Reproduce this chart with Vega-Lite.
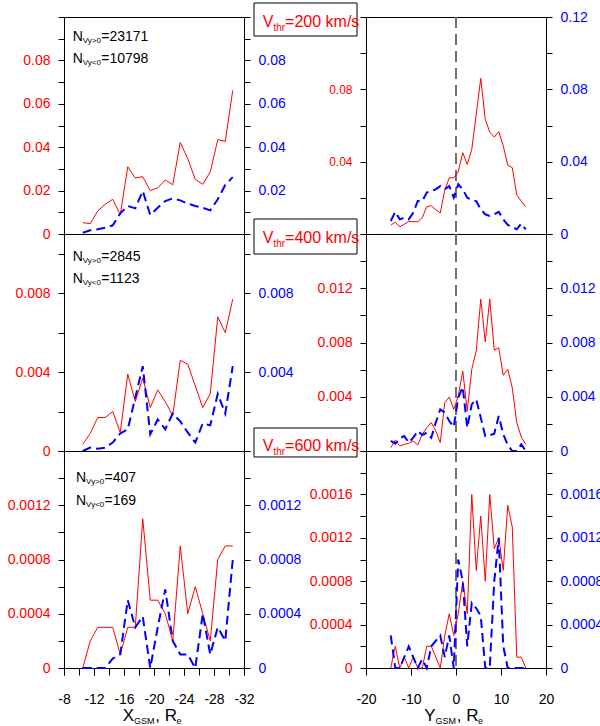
{
"$schema": "https://vega.github.io/schema/vega-lite/v6.json",
"padding": {"left": 6, "top": 2, "right": 0, "bottom": 0},
"datasets": {"d": [
{"p":"TL","x":-10.5,"r":0.0052,"b":0.0006},{"p":"TL","x":-11.5,"r":0.0048,"b":0.0017},{"p":"TL","x":-12.5,"r":0.0106,"b":0.0022},{"p":"TL","x":-13.5,"r":0.0137,"b":0.0029},{"p":"TL","x":-14.5,"r":0.016,"b":0.004},{"p":"TL","x":-15.5,"r":0.0088,"b":0.0095},{"p":"TL","x":-16.5,"r":0.031,"b":0.0129},{"p":"TL","x":-17.5,"r":0.0258,"b":0.0118},{"p":"TL","x":-18.5,"r":0.0264,"b":0.0198},{"p":"TL","x":-19.5,"r":0.02,"b":0.0088},{"p":"TL","x":-20.5,"r":0.0213,"b":0.0121},{"p":"TL","x":-21.5,"r":0.0249,"b":0.0152},{"p":"TL","x":-22.5,"r":0.0227,"b":0.0164},{"p":"TL","x":-23.5,"r":0.0422,"b":0.0155},{"p":"TL","x":-24.5,"r":0.0347,"b":0.014},{"p":"TL","x":-25.5,"r":0.0252,"b":0.0129},{"p":"TL","x":-26.5,"r":0.0229,"b":0.0121},{"p":"TL","x":-27.5,"r":0.0286,"b":0.0109},{"p":"TL","x":-28.5,"r":0.0435,"b":0.016},{"p":"TL","x":-29.5,"r":0.0427,"b":0.0226},{"p":"TL","x":-30.5,"r":0.0662,"b":0.0262},
{"p":"TR","x":-14.5,"r":0.0048,"b":0.0072},{"p":"TR","x":-13.5,"r":0.0066,"b":0.0123},{"p":"TR","x":-12.5,"r":0.0039,"b":0.0081},{"p":"TR","x":-11.5,"r":0.0054,"b":0.009},{"p":"TR","x":-10.5,"r":0.007,"b":0.0081},{"p":"TR","x":-9.5,"r":0.0068,"b":0.0118},{"p":"TR","x":-8.5,"r":0.0068,"b":0.0182},{"p":"TR","x":-7.5,"r":0.009,"b":0.0182},{"p":"TR","x":-6.5,"r":0.0151,"b":0.0229},{"p":"TR","x":-5.5,"r":0.0157,"b":0.0238},{"p":"TR","x":-4.5,"r":0.0134,"b":0.0247},{"p":"TR","x":-3.5,"r":0.0116,"b":0.0265},{"p":"TR","x":-2.5,"r":0.0242,"b":0.0247},{"p":"TR","x":-1.5,"r":0.0311,"b":0.0265},{"p":"TR","x":-0.5,"r":0.0311,"b":0.0201},{"p":"TR","x":0.5,"r":0.0345,"b":0.0275},{"p":"TR","x":1.5,"r":0.045,"b":0.0247},{"p":"TR","x":2.5,"r":0.0385,"b":0.0201},{"p":"TR","x":3.5,"r":0.0468,"b":0.0188},{"p":"TR","x":4.5,"r":0.0662,"b":0.0182},{"p":"TR","x":5.5,"r":0.0861,"b":0.0136},{"p":"TR","x":6.5,"r":0.0634,"b":0.0109},{"p":"TR","x":7.5,"r":0.0564,"b":0.01},{"p":"TR","x":8.5,"r":0.0536,"b":0.0109},{"p":"TR","x":9.5,"r":0.0566,"b":0.0123},{"p":"TR","x":10.5,"r":0.0487,"b":0.0081},{"p":"TR","x":11.5,"r":0.038,"b":0.005},{"p":"TR","x":12.5,"r":0.0367,"b":0.0039},{"p":"TR","x":13.5,"r":0.0216,"b":0.0026},{"p":"TR","x":14.5,"r":0.0182,"b":0.0057},{"p":"TR","x":15.5,"r":0.0151,"b":0.0026},
{"p":"ML","x":-10.5,"r":0.00034,"b":0},{"p":"ML","x":-11.5,"r":0.00089,"b":0.00017},{"p":"ML","x":-12.5,"r":0.0017,"b":0.00012},{"p":"ML","x":-13.5,"r":0.0017,"b":0.00017},{"p":"ML","x":-14.5,"r":0.002,"b":0.00043},{"p":"ML","x":-15.5,"r":0.00094,"b":0.00089},{"p":"ML","x":-16.5,"r":0.0039,"b":0.0011},{"p":"ML","x":-17.5,"r":0.0025,"b":0.0027},{"p":"ML","x":-18.5,"r":0.0037,"b":0.0043},{"p":"ML","x":-19.5,"r":0.0022,"b":0.00085},{"p":"ML","x":-20.5,"r":0.0031,"b":0.0016},{"p":"ML","x":-21.5,"r":0.0025,"b":0.0011},{"p":"ML","x":-22.5,"r":0.0018,"b":0.0019},{"p":"ML","x":-23.5,"r":0.0046,"b":0.0015},{"p":"ML","x":-24.5,"r":0.0044,"b":0.00094},{"p":"ML","x":-25.5,"r":0.0033,"b":0.00043},{"p":"ML","x":-26.5,"r":0.0022,"b":0.0014},{"p":"ML","x":-27.5,"r":0.0029,"b":0.0013},{"p":"ML","x":-28.5,"r":0.0068,"b":0.0029},{"p":"ML","x":-29.5,"r":0.006,"b":0.0019},{"p":"ML","x":-30.5,"r":0.0077,"b":0.0043},
{"p":"MR","x":-14.5,"r":0.00025,"b":0.00074},{"p":"MR","x":-13.5,"r":0.00079,"b":0.00054},{"p":"MR","x":-12.5,"r":0.00037,"b":0.00094},{"p":"MR","x":-11.5,"r":0.00049,"b":0.0011},{"p":"MR","x":-10.5,"r":0.00057,"b":0.00062},{"p":"MR","x":-9.5,"r":0.00074,"b":0.00098},{"p":"MR","x":-8.5,"r":0.00044,"b":0.00148},{"p":"MR","x":-7.5,"r":0.00123,"b":0.00118},{"p":"MR","x":-6.5,"r":0.00172,"b":0.00135},{"p":"MR","x":-5.5,"r":0.00209,"b":0.00098},{"p":"MR","x":-4.5,"r":0.00148,"b":0.00209},{"p":"MR","x":-3.5,"r":0.00062,"b":0.00307},{"p":"MR","x":-2.5,"r":0.00357,"b":0.00283},{"p":"MR","x":-1.5,"r":0.00398,"b":0.00221},{"p":"MR","x":-0.5,"r":0.00307,"b":0.00177},{"p":"MR","x":0.5,"r":0.00406,"b":0.00393},{"p":"MR","x":1.5,"r":0.0059,"b":0.00472},{"p":"MR","x":2.5,"r":0.00295,"b":0.00172},{"p":"MR","x":3.5,"r":0.00602,"b":0.00344},{"p":"MR","x":4.5,"r":0.00738,"b":0.00381},{"p":"MR","x":5.5,"r":0.0112,"b":0.00246},{"p":"MR","x":6.5,"r":0.00804,"b":0.0011},{"p":"MR","x":7.5,"r":0.0112,"b":0.00116},{"p":"MR","x":8.5,"r":0.00743,"b":0.00128},{"p":"MR","x":9.5,"r":0.00762,"b":0.00258},{"p":"MR","x":10.5,"r":0.00558,"b":0.00123},{"p":"MR","x":11.5,"r":0.00602,"b":0.00044},{"p":"MR","x":12.5,"r":0.00467,"b":0},{"p":"MR","x":13.5,"r":0.00209,"b":0},{"p":"MR","x":14.5,"r":0.00103,"b":0.00049},{"p":"MR","x":15.5,"r":0.00049,"b":0},
{"p":"BL","x":-10.5,"r":0,"b":0},{"p":"BL","x":-11.5,"r":0.0002,"b":0},{"p":"BL","x":-12.5,"r":0.0003,"b":0},{"p":"BL","x":-13.5,"r":0.0003,"b":0},{"p":"BL","x":-14.5,"r":0.0003,"b":0.00007},{"p":"BL","x":-15.5,"r":0.0001,"b":0.0001},{"p":"BL","x":-16.5,"r":0.0003,"b":0.0005},{"p":"BL","x":-17.5,"r":0.0003,"b":0.0003},{"p":"BL","x":-18.5,"r":0.0011,"b":0.00038},{"p":"BL","x":-19.5,"r":0.0005,"b":0},{"p":"BL","x":-20.5,"r":0.0005,"b":0.0003},{"p":"BL","x":-21.5,"r":0.0004,"b":0.00058},{"p":"BL","x":-22.5,"r":0.0002,"b":0.0002},{"p":"BL","x":-23.5,"r":0.0009,"b":0.0001},{"p":"BL","x":-24.5,"r":0.0004,"b":0.0001},{"p":"BL","x":-25.5,"r":0.0006,"b":0},{"p":"BL","x":-26.5,"r":0.0004,"b":0.0004},{"p":"BL","x":-27.5,"r":0.0002,"b":0.0001},{"p":"BL","x":-28.5,"r":0.0008,"b":0.0003},{"p":"BL","x":-29.5,"r":0.0009,"b":0.0002},{"p":"BL","x":-30.5,"r":0.0009,"b":0.0008},
{"p":"BR","x":-14.5,"r":0,"b":0.0003},{"p":"BR","x":-13.5,"r":0.0002,"b":0},{"p":"BR","x":-12.5,"r":0,"b":0},{"p":"BR","x":-11.5,"r":0.0001,"b":0.0001},{"p":"BR","x":-10.5,"r":0,"b":0.0002},{"p":"BR","x":-9.5,"r":0.0001,"b":0.0001},{"p":"BR","x":-8.5,"r":0,"b":0},{"p":"BR","x":-7.5,"r":0,"b":0.00008},{"p":"BR","x":-6.5,"r":0.0002,"b":0},{"p":"BR","x":-5.5,"r":0.0002,"b":0.0002},{"p":"BR","x":-4.5,"r":0.0001,"b":0.00025},{"p":"BR","x":-3.5,"r":0,"b":0.0003},{"p":"BR","x":-2.5,"r":0.0003,"b":0.0001},{"p":"BR","x":-1.5,"r":0.0005,"b":0.0003},{"p":"BR","x":-0.5,"r":0.0003,"b":0},{"p":"BR","x":0.5,"r":0.0005,"b":0.001},{"p":"BR","x":1.5,"r":0.0008,"b":0.0008},{"p":"BR","x":2.5,"r":0.0005,"b":0.0002},{"p":"BR","x":3.5,"r":0.0016,"b":0.0006},{"p":"BR","x":4.5,"r":0.0009,"b":0.00055},{"p":"BR","x":5.5,"r":0.0014,"b":0.00048},{"p":"BR","x":6.5,"r":0.0008,"b":0},{"p":"BR","x":7.5,"r":0.0016,"b":0},{"p":"BR","x":8.5,"r":0.0011,"b":0.0008},{"p":"BR","x":9.5,"r":0.0012,"b":0.0012},{"p":"BR","x":10.5,"r":0.0009,"b":0.0002},{"p":"BR","x":11.5,"r":0.0015,"b":0},{"p":"BR","x":12.5,"r":0.0013,"b":0},{"p":"BR","x":13.5,"r":0.0001,"b":0},{"p":"BR","x":14.5,"r":0.0001,"b":0},{"p":"BR","x":15.5,"r":0,"b":0}
]},
"columns": 2,
"spacing": {"row": 0, "column": 122},
"bounds": "flush",
"concat": [
{"width":180,"height":217,"resolve":{"axis":{"y":"independent"}},"layer":[
 {"data":{"name":"d"},"transform":[{"filter":"datum.p=='TL'"}],"mark":{"type":"line","color":"#ff0000","strokeWidth":1},
  "encoding":{"x":{"field":"x","type":"quantitative","scale":{"domain":[-8,-32],"nice":false,"zero":false},"axis":null},
   "y":{"field":"r","type":"quantitative","scale":{"domain":[0,0.1],"nice":false,"zero":false},"axis":{"orient":"left","title":null,"labelOverlap":false,"labelColor":"#ff0000","values":[0,0.01,0.02,0.03,0.04,0.05,0.06,0.07,0.08,0.09,0.1],"labelExpr":"indexof([0,0.02,0.04,0.06,0.08],datum.value)>=0?''+datum.value:''"}}}},
 {"data":{"name":"d"},"transform":[{"filter":"datum.p=='TL'"}],"mark":{"type":"line","color":"#0000ff","strokeWidth":2,"strokeDash":[9,5]},
  "encoding":{"x":{"field":"x","type":"quantitative","axis":null},
   "y":{"field":"b","type":"quantitative","axis":{"orient":"right","title":null,"labelOverlap":false,"labelColor":"#0000ff","values":[0,0.01,0.02,0.03,0.04,0.05,0.06,0.07,0.08,0.09,0.1],"labelExpr":"indexof([0.02,0.04,0.06,0.08],datum.value)>=0?''+datum.value:''"}}}},
 {"data":{"values":[{}]},"encoding":{"x":{"datum":-9.16,"type":"quantitative","axis":null},"y":{"datum":0.0889,"type":"quantitative","axis":null}},"layer":[
  {"mark":{"type":"text","fontSize":14,"clip":false},"encoding":{"text":{"value":"N"}}},
  {"mark":{"type":"text","fontSize":8,"dx":10.1,"dy":2,"clip":false},"encoding":{"text":{"value":"Vy>0"}}},
  {"mark":{"type":"text","fontSize":14,"dx":28.5,"clip":false},"encoding":{"text":{"value":"=23171"}}}]},
 {"data":{"values":[{}]},"encoding":{"x":{"datum":-9.16,"type":"quantitative","axis":null},"y":{"datum":0.0789,"type":"quantitative","axis":null}},"layer":[
  {"mark":{"type":"text","fontSize":14,"clip":false},"encoding":{"text":{"value":"N"}}},
  {"mark":{"type":"text","fontSize":8,"dx":10.1,"dy":2,"clip":false},"encoding":{"text":{"value":"Vy<0"}}},
  {"mark":{"type":"text","fontSize":14,"dx":28.5,"clip":false},"encoding":{"text":{"value":"=10798"}}}]}
]},
{"width":180,"height":217,"resolve":{"axis":{"y":"independent"}},"layer":[
 {"data":{"values":[{}]},"mark":{"type":"rule","color":"#707070","strokeWidth":2,"strokeDash":[11,6]},"encoding":{"x":{"datum":0,"type":"quantitative","axis":null}}},
 {"data":{"name":"d"},"transform":[{"filter":"datum.p=='TR'"}],"mark":{"type":"line","color":"#ff0000","strokeWidth":1},
  "encoding":{"x":{"field":"x","type":"quantitative","scale":{"domain":[-20,20],"nice":false,"zero":false},"axis":null},
   "y":{"field":"r","type":"quantitative","scale":{"domain":[0,0.12],"nice":false,"zero":false},"axis":{"orient":"left","title":null,"labelOverlap":false,"labelColor":"#ff0000","labelFontSize":12,"values":[0,0.02,0.04,0.06,0.08,0.1,0.12],"labelExpr":"indexof([0.04,0.08],datum.value)>=0?''+datum.value:''"}}}},
 {"data":{"name":"d"},"transform":[{"filter":"datum.p=='TR'"}],"mark":{"type":"line","color":"#0000ff","strokeWidth":2,"strokeDash":[9,5]},
  "encoding":{"x":{"field":"x","type":"quantitative","axis":null},
   "y":{"field":"b","type":"quantitative","axis":{"orient":"right","title":null,"labelOverlap":false,"labelColor":"#0000ff","values":[0,0.02,0.04,0.06,0.08,0.1,0.12],"labelExpr":"indexof([0,0.04,0.08,0.12],datum.value)>=0?''+datum.value:''"}}}},
 {"data":{"values":[{}]},"mark":{"type":"rect","fill":"#ffffff","stroke":"#000000","strokeWidth":1,"clip":false},
  "encoding":{"x":{"datum":-44.89,"type":"quantitative","axis":null},"x2":{"datum":-22.0},"y":{"datum":0.12774,"type":"quantitative","axis":null},"y2":{"datum":0.10949}}},
 {"data":{"values":[{}]},"encoding":{"x":{"datum":-42.96,"type":"quantitative","axis":null},"y":{"datum":0.11447,"type":"quantitative","axis":null}},"layer":[
  {"mark":{"type":"text","fontSize":16,"color":"#ff0000","clip":false},"encoding":{"text":{"value":"V"}}},
  {"mark":{"type":"text","fontSize":10,"color":"#ff0000","dx":10.7,"dy":4,"clip":false},"encoding":{"text":{"value":"thr"}}},
  {"mark":{"type":"text","fontSize":16,"color":"#ff0000","dx":22.4,"clip":false},"encoding":{"text":{"value":"=200 km/s"}}}]}
]},
{"width":180,"height":217,"resolve":{"axis":{"y":"independent"}},"layer":[
 {"data":{"name":"d"},"transform":[{"filter":"datum.p=='ML'"}],"mark":{"type":"line","color":"#ff0000","strokeWidth":1},
  "encoding":{"x":{"field":"x","type":"quantitative","scale":{"domain":[-8,-32],"nice":false,"zero":false},"axis":null},
   "y":{"field":"r","type":"quantitative","scale":{"domain":[0,0.011],"nice":false,"zero":false},"axis":{"orient":"left","title":null,"labelOverlap":false,"labelColor":"#ff0000","values":[0,0.002,0.004,0.006,0.008,0.01],"labelExpr":"indexof([0,0.004,0.008],datum.value)>=0?''+datum.value:''"}}}},
 {"data":{"name":"d"},"transform":[{"filter":"datum.p=='ML'"}],"mark":{"type":"line","color":"#0000ff","strokeWidth":2,"strokeDash":[9,5]},
  "encoding":{"x":{"field":"x","type":"quantitative","axis":null},
   "y":{"field":"b","type":"quantitative","axis":{"orient":"right","title":null,"labelOverlap":false,"labelColor":"#0000ff","values":[0,0.002,0.004,0.006,0.008,0.01],"labelExpr":"indexof([0.004,0.008],datum.value)>=0?''+datum.value:''"}}}},
 {"data":{"values":[{}]},"encoding":{"x":{"datum":-9.16,"type":"quantitative","axis":null},"y":{"datum":0.009631,"type":"quantitative","axis":null}},"layer":[
  {"mark":{"type":"text","fontSize":14,"clip":false},"encoding":{"text":{"value":"N"}}},
  {"mark":{"type":"text","fontSize":8,"dx":10.1,"dy":2,"clip":false},"encoding":{"text":{"value":"Vy>0"}}},
  {"mark":{"type":"text","fontSize":14,"dx":28.5,"clip":false},"encoding":{"text":{"value":"=2845"}}}]},
 {"data":{"values":[{}]},"encoding":{"x":{"datum":-9.16,"type":"quantitative","axis":null},"y":{"datum":0.008531,"type":"quantitative","axis":null}},"layer":[
  {"mark":{"type":"text","fontSize":14,"clip":false},"encoding":{"text":{"value":"N"}}},
  {"mark":{"type":"text","fontSize":8,"dx":10.1,"dy":2,"clip":false},"encoding":{"text":{"value":"Vy<0"}}},
  {"mark":{"type":"text","fontSize":14,"dx":28.5,"clip":false},"encoding":{"text":{"value":"=1123"}}}]}
]},
{"width":180,"height":217,"resolve":{"axis":{"y":"independent"}},"layer":[
 {"data":{"values":[{}]},"mark":{"type":"rule","color":"#707070","strokeWidth":2,"strokeDash":[11,6]},"encoding":{"x":{"datum":0,"type":"quantitative","axis":null}}},
 {"data":{"name":"d"},"transform":[{"filter":"datum.p=='MR'"}],"mark":{"type":"line","color":"#ff0000","strokeWidth":1},
  "encoding":{"x":{"field":"x","type":"quantitative","scale":{"domain":[-20,20],"nice":false,"zero":false},"axis":null},
   "y":{"field":"r","type":"quantitative","scale":{"domain":[0,0.016],"nice":false,"zero":false},"axis":{"orient":"left","title":null,"labelOverlap":false,"labelColor":"#ff0000","values":[0,0.002,0.004,0.006,0.008,0.01,0.012,0.014,0.016],"labelExpr":"indexof([0.004,0.008,0.012],datum.value)>=0?''+datum.value:''"}}}},
 {"data":{"name":"d"},"transform":[{"filter":"datum.p=='MR'"}],"mark":{"type":"line","color":"#0000ff","strokeWidth":2,"strokeDash":[9,5]},
  "encoding":{"x":{"field":"x","type":"quantitative","axis":null},
   "y":{"field":"b","type":"quantitative","axis":{"orient":"right","title":null,"labelOverlap":false,"labelColor":"#0000ff","values":[0,0.002,0.004,0.006,0.008,0.01,0.012,0.014,0.016],"labelExpr":"indexof([0,0.004,0.008,0.012],datum.value)>=0?''+datum.value:''"}}}},
 {"data":{"values":[{}]},"mark":{"type":"rect","fill":"#ffffff","stroke":"#000000","strokeWidth":1,"clip":false},
  "encoding":{"x":{"datum":-44.89,"type":"quantitative","axis":null},"x2":{"datum":-22.0},"y":{"datum":0.017106,"type":"quantitative","axis":null},"y2":{"datum":0.014525}}},
 {"data":{"values":[{}]},"encoding":{"x":{"datum":-42.96,"type":"quantitative","axis":null},"y":{"datum":0.015336,"type":"quantitative","axis":null}},"layer":[
  {"mark":{"type":"text","fontSize":16,"color":"#ff0000","clip":false},"encoding":{"text":{"value":"V"}}},
  {"mark":{"type":"text","fontSize":10,"color":"#ff0000","dx":10.7,"dy":4,"clip":false},"encoding":{"text":{"value":"thr"}}},
  {"mark":{"type":"text","fontSize":16,"color":"#ff0000","dx":22.4,"clip":false},"encoding":{"text":{"value":"=400 km/s"}}}]}
]},
{"width":180,"height":217,"resolve":{"axis":{"x":"independent","y":"independent"}},"layer":[
 {"data":{"name":"d"},"transform":[{"filter":"datum.p=='BL'"}],"mark":{"type":"line","color":"#ff0000","strokeWidth":1},
  "encoding":{"x":{"field":"x","type":"quantitative","scale":{"domain":[-8,-32],"nice":false,"zero":false},"axis":{"orient":"bottom","title":null,"tickColor":"#000000","tickSize":7,"labels":false,"values":[-8,-10,-12,-14,-16,-18,-20,-22,-24,-26,-28,-30,-32]}},
   "y":{"field":"r","type":"quantitative","scale":{"domain":[0,0.0016],"nice":false,"zero":false},"axis":{"orient":"left","title":null,"labelOverlap":false,"labelColor":"#ff0000","values":[0,0.0002,0.0004,0.0006,0.0008,0.001,0.0012,0.0014,0.0016],"labelExpr":"indexof([0,0.0004,0.0008,0.0012],datum.value)>=0?''+datum.value:''"}}}},
 {"data":{"name":"d"},"transform":[{"filter":"datum.p=='BL'"}],"mark":{"type":"line","color":"#0000ff","strokeWidth":2,"strokeDash":[9,5]},
  "encoding":{"x":{"field":"x","type":"quantitative","axis":{"orient":"bottom","title":null,"tickColor":"#000000","tickSize":7,"labelPadding":17,"labelOverlap":false,"labelColor":"#000000","values":[-8,-12,-16,-20,-24,-28,-32],"labelExpr":"''+datum.value"}},
   "y":{"field":"b","type":"quantitative","axis":{"orient":"right","title":null,"labelOverlap":false,"labelColor":"#0000ff","values":[0,0.0002,0.0004,0.0006,0.0008,0.001,0.0012,0.0014,0.0016],"labelExpr":"indexof([0,0.0004,0.0008,0.0012],datum.value)>=0?''+datum.value:''"}}}},
 {"data":{"values":[{}]},"encoding":{"x":{"datum":-9.6,"type":"quantitative","axis":null},"y":{"datum":0.001371,"type":"quantitative","axis":null}},"layer":[
  {"mark":{"type":"text","fontSize":14,"clip":false},"encoding":{"text":{"value":"N"}}},
  {"mark":{"type":"text","fontSize":8,"dx":10.1,"dy":2,"clip":false},"encoding":{"text":{"value":"Vy>0"}}},
  {"mark":{"type":"text","fontSize":14,"dx":28.5,"clip":false},"encoding":{"text":{"value":"=407"}}}]},
 {"data":{"values":[{}]},"encoding":{"x":{"datum":-9.6,"type":"quantitative","axis":null},"y":{"datum":0.001205,"type":"quantitative","axis":null}},"layer":[
  {"mark":{"type":"text","fontSize":14,"clip":false},"encoding":{"text":{"value":"N"}}},
  {"mark":{"type":"text","fontSize":8,"dx":10.1,"dy":2,"clip":false},"encoding":{"text":{"value":"Vy<0"}}},
  {"mark":{"type":"text","fontSize":14,"dx":28.5,"clip":false},"encoding":{"text":{"value":"=169"}}}]},
 {"data":{"values":[{}]},"encoding":{"x":{"datum":-15.83,"type":"quantitative","axis":null},"y":{"datum":-0.000394,"type":"quantitative","axis":null}},"layer":[
  {"mark":{"type":"text","fontSize":17,"clip":false},"encoding":{"text":{"value":"X"}}},
  {"mark":{"type":"text","fontSize":9,"dx":11.3,"dy":3,"clip":false},"encoding":{"text":{"value":"GSM"}}},
  {"mark":{"type":"text","fontSize":17,"dx":32.5,"clip":false},"encoding":{"text":{"value":", R"}}},
  {"mark":{"type":"text","fontSize":9,"dx":53.7,"dy":3,"clip":false},"encoding":{"text":{"value":"e"}}}]}
]},
{"width":180,"height":217,"resolve":{"axis":{"y":"independent"}},"layer":[
 {"data":{"values":[{}]},"mark":{"type":"rule","color":"#707070","strokeWidth":2,"strokeDash":[11,6]},"encoding":{"x":{"datum":0,"type":"quantitative"}}},
 {"data":{"name":"d"},"transform":[{"filter":"datum.p=='BR'"}],"mark":{"type":"line","color":"#ff0000","strokeWidth":1},
  "encoding":{"x":{"field":"x","type":"quantitative","scale":{"domain":[-20,20],"nice":false,"zero":false},"axis":{"orient":"bottom","title":null,"ticks":true,"tickColor":"#000000","tickSize":7,"labelPadding":17,"labelOverlap":false,"labelColor":"#000000","values":[-20,-15,-10,-5,0,5,10,15,20],"labelExpr":"datum.value%10==0?''+datum.value:''"}},
   "y":{"field":"r","type":"quantitative","scale":{"domain":[0,0.002],"nice":false,"zero":false},"axis":{"orient":"left","title":null,"labelOverlap":false,"labelColor":"#ff0000","values":[0,0.0002,0.0004,0.0006,0.0008,0.001,0.0012,0.0014,0.0016,0.0018,0.002],"labelExpr":"indexof([0,0.0004,0.0008,0.0012,0.0016],datum.value)>=0?''+datum.value:''"}}}},
 {"data":{"name":"d"},"transform":[{"filter":"datum.p=='BR'"}],"mark":{"type":"line","color":"#0000ff","strokeWidth":2,"strokeDash":[9,5]},
  "encoding":{"x":{"field":"x","type":"quantitative"},
   "y":{"field":"b","type":"quantitative","axis":{"orient":"right","title":null,"labelOverlap":false,"labelColor":"#0000ff","values":[0,0.0002,0.0004,0.0006,0.0008,0.001,0.0012,0.0014,0.0016,0.0018,0.002],"labelExpr":"indexof([0,0.0004,0.0008,0.0012,0.0016],datum.value)>=0?''+datum.value:''"}}}},
 {"data":{"values":[{}]},"mark":{"type":"rect","fill":"#ffffff","stroke":"#000000","strokeWidth":1,"clip":false},
  "encoding":{"x":{"datum":-44.89,"type":"quantitative"},"x2":{"datum":-22.0},"y":{"datum":0.002212,"type":"quantitative","axis":null},"y2":{"datum":0.001945}}},
 {"data":{"values":[{}]},"encoding":{"x":{"datum":-42.96,"type":"quantitative"},"y":{"datum":0.002,"type":"quantitative","axis":null}},"layer":[
  {"mark":{"type":"text","fontSize":16,"color":"#ff0000","clip":false},"encoding":{"text":{"value":"V"}}},
  {"mark":{"type":"text","fontSize":10,"color":"#ff0000","dx":10.7,"dy":4,"clip":false},"encoding":{"text":{"value":"thr"}}},
  {"mark":{"type":"text","fontSize":16,"color":"#ff0000","dx":22.4,"clip":false},"encoding":{"text":{"value":"=600 km/s"}}}]},
 {"data":{"values":[{}]},"encoding":{"x":{"datum":-7.04,"type":"quantitative"},"y":{"datum":-0.000492,"type":"quantitative","axis":null}},"layer":[
  {"mark":{"type":"text","fontSize":17,"clip":false},"encoding":{"text":{"value":"Y"}}},
  {"mark":{"type":"text","fontSize":9,"dx":11.3,"dy":3,"clip":false},"encoding":{"text":{"value":"GSM"}}},
  {"mark":{"type":"text","fontSize":17,"dx":32.5,"clip":false},"encoding":{"text":{"value":", R"}}},
  {"mark":{"type":"text","fontSize":9,"dx":53.7,"dy":3,"clip":false},"encoding":{"text":{"value":"e"}}}]}
]}
],
"config": {
 "background": "#ffffff",
 "view": {"stroke": "#000000", "strokeWidth": 1},
 "axis": {"grid": false, "domain": false, "labelFont": "Liberation Sans", "labelFontSize": 14, "tickColor": "#000000", "tickSize": 6, "tickWidth": 1, "labelOverlap": false, "labelFlush": false, "labelPadding": 8, "labelBound": false},
 "text": {"font": "Liberation Sans", "baseline": "alphabetic", "align": "left", "color": "#000000"}
}
}
